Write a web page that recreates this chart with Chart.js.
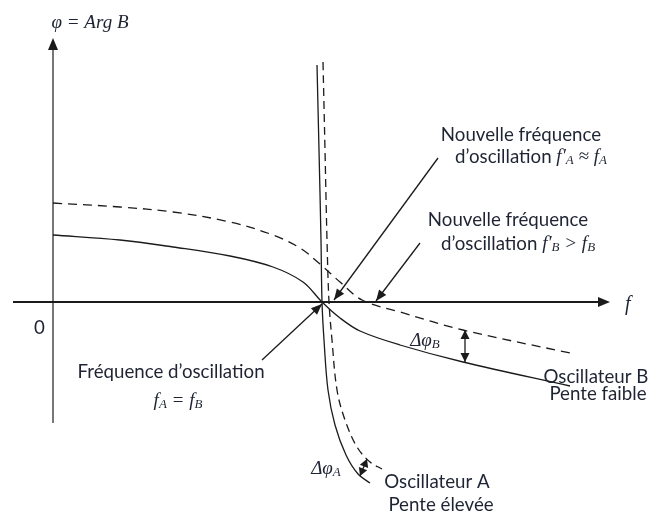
<!DOCTYPE html>
<html>
<head>
<meta charset="utf-8">
<script src="https://cdn.jsdelivr.net/npm/chart.js@4"></script>
<style>
  html, body { margin: 0; padding: 0; background: #fff; }
  canvas { display: block; }
</style>
</head>
<body>
<canvas id="phaseChart" width="649" height="516"></canvas>
<script>
// f and phi in arbitrary units (origin at the axes crossing)
const solidB_f   = [0, 0.67, 1.20, 1.77, 2.20, 2.50, 2.69, 2.87, 3.07, 3.47, 4.10, 5.17];
const solidB_phi = [0.67, 0.62, 0.55, 0.46, 0.35, 0.20, 0, -0.16, -0.29, -0.43, -0.60, -0.84];

const dashedB_f   = [0, 0.67, 1.20, 1.77, 2.20, 2.47, 2.67, 2.87, 3.09, 3.47, 4.10, 5.17];
const dashedB_phi = [0.99, 0.95, 0.90, 0.80, 0.67, 0.54, 0.38, 0.20, 0.02, -0.10, -0.28, -0.51];

const solidA_f   = [2.64, 2.66, 2.68, 2.69, 2.71, 2.75, 2.82, 2.93, 3.05, 3.17];
const solidA_phi = [2.37, 1.52, 0.62, 0, -0.38, -0.88, -1.23, -1.53, -1.72, -1.81];

const dashedA_f   = [2.70, 2.72, 2.74, 2.76, 2.79, 2.84, 2.92, 3.04, 3.17, 3.29];
const dashedA_phi = [2.40, 1.52, 0.62, 0, -0.38, -0.88, -1.18, -1.45, -1.60, -1.67];

const toPoints = (xs, ys) => xs.map((x, i) => ({ x: x, y: ys[i] }));

const ink = "#1b1b1b";
const textInk = "#1e2433";
const SANS = '18.7px Lato, "Open Sans", sans-serif';
const MATH = 'italic 19px "Liberation Serif", "DejaVu Serif", serif';
const SUB = 'italic 13px "Liberation Serif", "DejaVu Serif", serif';

function drawRuns(ctx, cx, cy, runs) {
  let total = 0;
  runs.forEach(r => { ctx.font = r.font; total += ctx.measureText(r.t).width; });
  let x = cx - total / 2;
  ctx.textBaseline = "middle";
  ctx.textAlign = "left";
  runs.forEach(r => {
    ctx.font = r.font;
    ctx.fillText(r.t, x, cy + (r.dy || 0));
    x += ctx.measureText(r.t).width;
  });
}

function arrowHead(ctx, x1, y1, x2, y2, len, half) {
  const a = Math.atan2(y2 - y1, x2 - x1);
  ctx.beginPath();
  ctx.moveTo(x2, y2);
  ctx.lineTo(x2 - len * Math.cos(a) + half * Math.sin(a), y2 - len * Math.sin(a) - half * Math.cos(a));
  ctx.lineTo(x2 - len * Math.cos(a) - half * Math.sin(a), y2 - len * Math.sin(a) + half * Math.cos(a));
  ctx.closePath();
  ctx.fill();
}

function arrow(ctx, x1, y1, x2, y2, both, len, half) {
  len = len || 11; half = half || 4.5;
  ctx.beginPath();
  ctx.moveTo(x1, y1);
  ctx.lineTo(x2, y2);
  ctx.stroke();
  arrowHead(ctx, x1, y1, x2, y2, len, half);
  if (both) arrowHead(ctx, x2, y2, x1, y1, len, half);
}

const sketchPlugin = {
  id: "sketch",
  beforeDatasetsDraw(chart) {
    const { ctx, scales: { x, y } } = chart;
    const ox = x.getPixelForValue(0), oy = y.getPixelForValue(0);
    ctx.save();
    ctx.fillStyle = ink;
    // vertical axis
    ctx.strokeStyle = "#4a4a4a";
    ctx.lineWidth = 1.5;
    ctx.beginPath();
    ctx.moveTo(ox, y.getPixelForValue(-1.21));
    ctx.lineTo(ox, y.getPixelForValue(2.55));
    ctx.stroke();
    arrowHead(ctx, ox, oy, ox, y.getPixelForValue(2.64), 12, 5);
    // horizontal axis
    ctx.strokeStyle = ink;
    ctx.lineWidth = 2;
    ctx.beginPath();
    ctx.moveTo(x.getPixelForValue(-0.40), oy);
    ctx.lineTo(x.getPixelForValue(5.48), oy);
    ctx.stroke();
    arrowHead(ctx, ox, oy, x.getPixelForValue(5.57), oy, 12, 5);
    ctx.restore();
  },
  afterDatasetsDraw(chart) {
    const { ctx, scales: { x, y } } = chart;
    const px = v => x.getPixelForValue(v), py = v => y.getPixelForValue(v);
    ctx.save();
    ctx.strokeStyle = ink;
    ctx.fillStyle = ink;
    ctx.lineWidth = 1.3;
    // pointer arrows
    arrow(ctx, px(3.85), py(1.44), px(2.81), py(0.02));
    arrow(ctx, px(3.67), py(0.59), px(3.23), py(0.01));
    arrow(ctx, px(2.09), py(-0.58), px(2.69), py(-0.02));
    // phase differences
    arrow(ctx, px(4.12), py(-0.28), px(4.12), py(-0.60), true, 9, 4.5);
    arrow(ctx, px(3.07), py(-1.74), px(3.14), py(-1.57), true, 8, 4.5);

    ctx.fillStyle = textInk;
    // axis labels
    ctx.textBaseline = "middle";
    ctx.textAlign = "left";
    drawRuns(ctx, 90, 23, [
      { t: "\u03c6", font: MATH }, { t: " = ", font: MATH },
      { t: "Arg B", font: MATH }
    ]);
    ctx.textAlign = "left";
    ctx.font = 'italic 20px "Liberation Serif", serif';
    ctx.fillText("f", 625, 305);
    ctx.font = SANS;
    ctx.fillText("0", 34, 328);

    drawRuns(ctx, 521, 135, [{ t: "Nouvelle fr\u00e9quence", font: SANS }]);
    drawRuns(ctx, 531, 157, [
      { t: "d\u2019oscillation ", font: SANS },
      { t: "f\u2032", font: MATH }, { t: "A", font: SUB, dy: 4 },
      { t: " \u2248 ", font: MATH },
      { t: "f", font: MATH }, { t: "A", font: SUB, dy: 4 }
    ]);
    drawRuns(ctx, 508, 220, [{ t: "Nouvelle fr\u00e9quence", font: SANS }]);
    drawRuns(ctx, 518, 244, [
      { t: "d\u2019oscillation ", font: SANS },
      { t: "f\u2032", font: MATH }, { t: "B", font: SUB, dy: 4 },
      { t: " > ", font: MATH },
      { t: "f", font: MATH }, { t: "B", font: SUB, dy: 4 }
    ]);
    drawRuns(ctx, 171, 372, [{ t: "Fr\u00e9quence d\u2019oscillation", font: SANS }]);
    drawRuns(ctx, 178, 401, [
      { t: "f", font: MATH }, { t: "A", font: SUB, dy: 4 },
      { t: " = ", font: MATH },
      { t: "f", font: MATH }, { t: "B", font: SUB, dy: 4 }
    ]);
    drawRuns(ctx, 425, 341, [{ t: "\u0394\u03c6", font: MATH }, { t: "B", font: SUB, dy: 4 }]);
    drawRuns(ctx, 326, 469, [{ t: "\u0394\u03c6", font: MATH }, { t: "A", font: SUB, dy: 4 }]);
    drawRuns(ctx, 596, 377, [{ t: "Oscillateur B", font: SANS }]);
    drawRuns(ctx, 598, 394, [{ t: "Pente faible", font: SANS }]);
    drawRuns(ctx, 437, 482, [{ t: "Oscillateur A", font: SANS }]);
    drawRuns(ctx, 441, 505, [{ t: "Pente \u00e9lev\u00e9e", font: SANS }]);
    ctx.restore();
  }
};

const curve = (label, data, dash) => ({
  label: label,
  data: data,
  showLine: true,
  borderColor: ink,
  borderWidth: 1.3,
  borderDash: dash,
  pointRadius: 0,
  tension: 0.35,
  fill: false
});

new Chart(document.getElementById("phaseChart"), {
  type: "scatter",
  data: {
    datasets: [
      curve("Oscillateur B", toPoints(solidB_f, solidB_phi), []),
      curve("Oscillateur B (nouveau)", toPoints(dashedB_f, dashedB_phi), [9, 6]),
      curve("Oscillateur A", toPoints(solidA_f, solidA_phi), []),
      curve("Oscillateur A (nouveau)", toPoints(dashedA_f, dashedA_phi), [8, 5])
    ]
  },
  options: {
    responsive: false,
    animation: false,
    layout: { padding: 0 },
    plugins: { legend: { display: false }, tooltip: { enabled: false } },
    scales: {
      x: { type: "linear", display: false, min: -0.53, max: 5.96 },
      y: { type: "linear", display: false, min: -2.14, max: 3.02 }
    }
  },
  plugins: [sketchPlugin]
});
</script>
</body>
</html>
